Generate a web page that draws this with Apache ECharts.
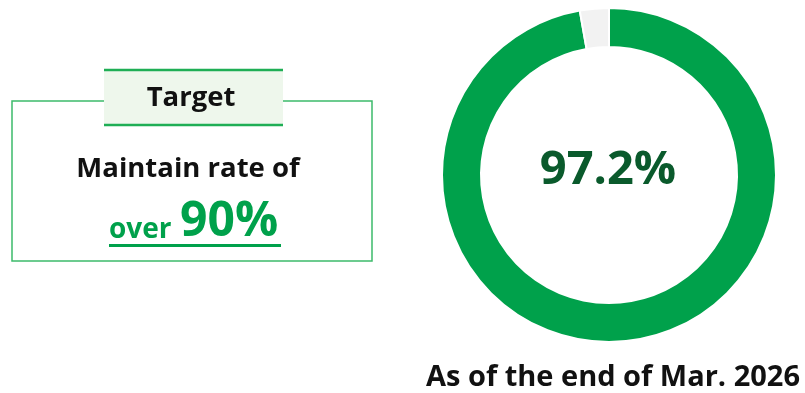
<!DOCTYPE html>
<html>
<head>
<meta charset="utf-8">
<script src="https://cdn.jsdelivr.net/npm/echarts@6/dist/echarts.min.js"></script>
<style>
html,body{margin:0;padding:0;background:#fff;}
#chart{width:805px;height:393px;}
</style>
</head>
<body>
<div id="chart"></div>
<script>
// Data
var categories = ['Achieved', 'Remaining'];
var values = [97.2, 2.8];
var targetRate = 90;
var targetTitle = 'Target';
var targetLine1 = 'Maintain rate of';
var targetPrefix = 'over';
var asOfLabel = 'As of the end of Mar. 2026';

var GREEN = '#00A14B';
var FONT = '"Open Sans", sans-serif';

var chart = echarts.init(document.getElementById('chart'), null, {renderer: 'canvas'});

var option = {
  backgroundColor: '#ffffff',
  animation: false,
  series: [{
    type: 'pie',
    center: [609, 175],
    radius: [128, 167],
    startAngle: 90,
    clockwise: true,
    silent: true,
    label: {show: false},
    labelLine: {show: false},
    itemStyle: {borderColor: '#ffffff', borderWidth: 2},
    data: categories.map(function (c, i) {
      return {name: c, value: values[i], itemStyle: {color: i === 0 ? GREEN : '#F2F2F2'}};
    })
  }],
  graphic: [
    // outer box
    {type: 'rect', shape: {x: 12, y: 101, width: 360, height: 160},
     style: {fill: 'none', stroke: '#3DBB6B', lineWidth: 1.5}},
    // title label box
    {type: 'rect', shape: {x: 104, y: 69, width: 179, height: 57},
     style: {fill: '#EEF7EC', stroke: null}},
    {type: 'line', shape: {x1: 104, y1: 70, x2: 283, y2: 70},
     style: {stroke: '#1FAE55', lineWidth: 2.5}},
    {type: 'line', shape: {x1: 104, y1: 125, x2: 283, y2: 125},
     style: {stroke: '#1FAE55', lineWidth: 2.5}},
    {type: 'text', x: 191, y: 98,
     style: {text: targetTitle, font: 'bold 27.5px ' + FONT, fill: '#111', align: 'center', verticalAlign: 'middle'}},
    {type: 'text', x: 188, y: 169,
     style: {text: targetLine1, font: 'bold 27.5px ' + FONT, fill: '#111', align: 'center', verticalAlign: 'middle'}},
    {type: 'text', x: 109, y: 244,
     style: {text: targetPrefix, font: 'bold 28px ' + FONT, fill: GREEN, align: 'left', verticalAlign: 'bottom'}},
    {type: 'text', x: 180, y: 246,
     style: {text: targetRate + '%', font: 'bold 48px ' + FONT, fill: GREEN, align: 'left', verticalAlign: 'bottom'}},
    {type: 'line', shape: {x1: 109, y1: 245.5, x2: 281, y2: 245.5},
     style: {stroke: GREEN, lineWidth: 3}},
    // donut center value
    {type: 'text', x: 608, y: 171,
     style: {text: values[0].toFixed(1) + '%', font: 'bold 47px ' + FONT, fill: '#0A5A2C', align: 'center', verticalAlign: 'middle'}},
    {type: 'text', x: 613, y: 378,
     style: {text: asOfLabel, font: 'bold 29px ' + FONT, fill: '#111', align: 'center', verticalAlign: 'middle'}}
  ]
};
chart.setOption(option);
</script>
</body>
</html>
